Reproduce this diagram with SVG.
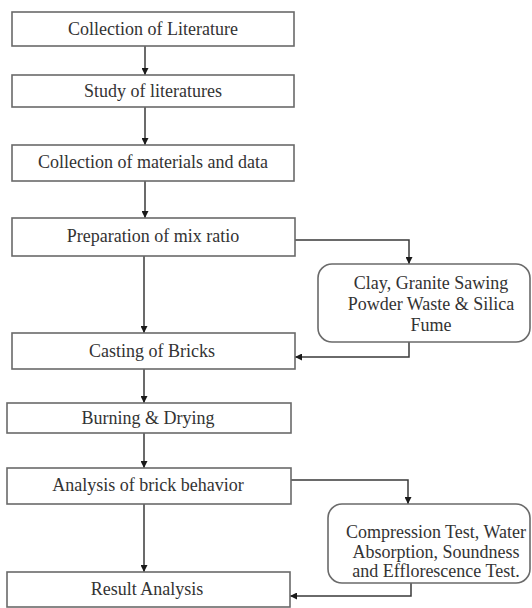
<svg xmlns="http://www.w3.org/2000/svg" width="532" height="608" viewBox="0 0 532 608">
<defs>
<style>
.box{fill:#fff;stroke:#6a6a6a;stroke-width:1.6}
.t{font-family:"Liberation Serif","Times New Roman",serif;font-size:18px;fill:#333;text-anchor:middle}
.c{fill:none;stroke:#3a3a3a;stroke-width:1.5}
</style>
<marker id="ah" viewBox="0 0 10 10" refX="10" refY="5" markerWidth="7" markerHeight="7" markerUnits="userSpaceOnUse" orient="auto">
<path d="M0,0 L10,5 L0,10 z" fill="#1a1a1a"/>
</marker>
</defs>
<rect width="532" height="608" fill="#fff"/>
<g id="connectors">
<line class="c" x1="145" y1="46" x2="145" y2="75" marker-end="url(#ah)"/>
<line class="c" x1="145" y1="107" x2="145" y2="145" marker-end="url(#ah)"/>
<line class="c" x1="145" y1="181" x2="145" y2="218" marker-end="url(#ah)"/>
<line class="c" x1="144" y1="256" x2="144" y2="333" marker-end="url(#ah)"/>
<line class="c" x1="144" y1="369" x2="144" y2="403" marker-end="url(#ah)"/>
<line class="c" x1="144" y1="433" x2="144" y2="468" marker-end="url(#ah)"/>
<line class="c" x1="144" y1="504" x2="144" y2="572" marker-end="url(#ah)"/>
<polyline class="c" points="295,240 409,240 409,264" marker-end="url(#ah)"/>
<polyline class="c" points="409,342 409,357 295,357" marker-end="url(#ah)"/>
<polyline class="c" points="291,480 408,480 408,504" marker-end="url(#ah)"/>
<polyline class="c" points="411,583 411,596 290,596" marker-end="url(#ah)"/>
</g>
<g id="n1"><rect class="box" x="12" y="12" width="282" height="34"/><text class="t" x="153" y="35">Collection of Literature</text></g>
<g id="n2"><rect class="box" x="12" y="75" width="282" height="32"/><text class="t" x="153" y="97">Study of literatures</text></g>
<g id="n3"><rect class="box" x="12" y="145" width="282" height="36"/><text class="t" x="153" y="168">Collection of materials and data</text></g>
<g id="n4"><rect class="box" x="12" y="218" width="283" height="38"/><text class="t" x="153" y="242">Preparation of mix ratio</text></g>
<g id="n5"><rect class="box" x="318" y="264" width="212" height="78" rx="14"/><text class="t" x="431" y="289">Clay, Granite Sawing</text><text class="t" x="431" y="310">Powder Waste &amp; Silica</text><text class="t" x="431" y="331">Fume</text></g>
<g id="n6"><rect class="box" x="12" y="333" width="283" height="36"/><text class="t" x="152" y="357">Casting of Bricks</text></g>
<g id="n7"><rect class="box" x="7" y="403" width="284" height="30"/><text class="t" x="148" y="424">Burning &amp; Drying</text></g>
<g id="n8"><rect class="box" x="7" y="468" width="284" height="36"/><text class="t" x="148" y="491">Analysis of brick behavior</text></g>
<g id="n9"><rect class="box" x="328" y="504" width="202" height="79" rx="14"/><text class="t" x="436" y="538">Compression Test, Water</text><text class="t" x="436" y="558">Absorption, Soundness</text><text class="t" x="436" y="577">and Efflorescence Test.</text></g>
<g id="n10"><rect class="box" x="7" y="572" width="283" height="35"/><text class="t" x="147" y="595">Result Analysis</text></g>
</svg>
